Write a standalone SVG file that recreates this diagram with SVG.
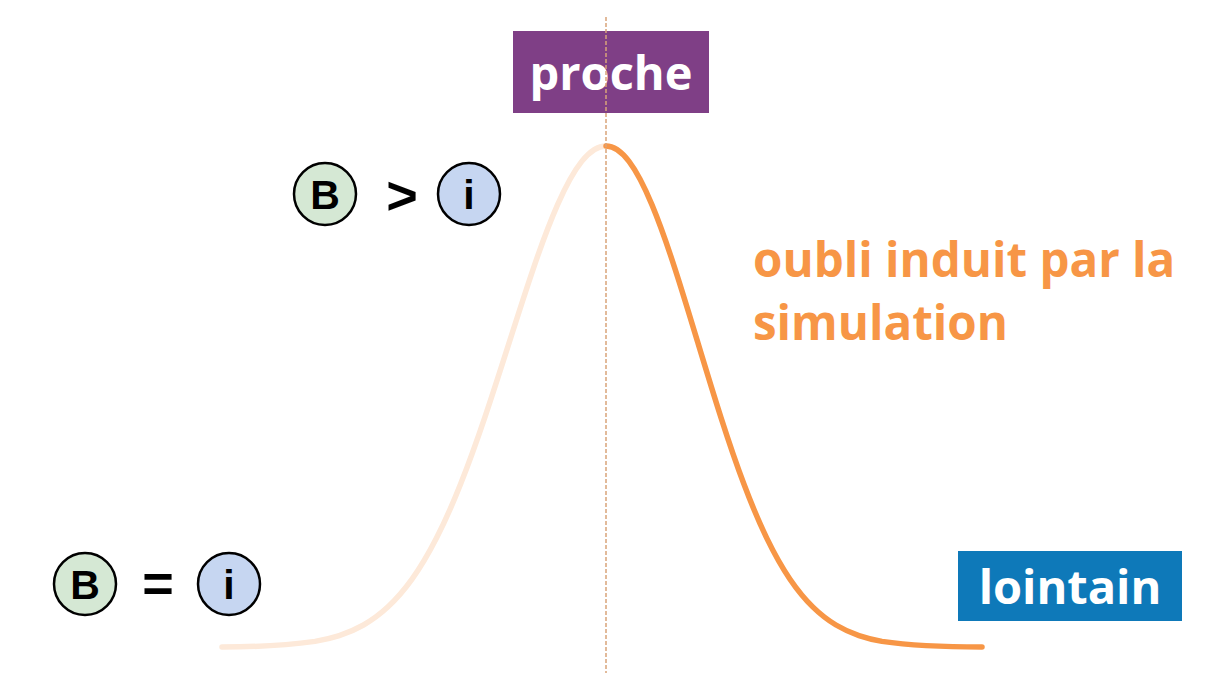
<svg xmlns="http://www.w3.org/2000/svg" width="1209" height="673" viewBox="0 0 1209 673">
<style>
.lbl{font-family:"Open Sans","Liberation Sans",sans-serif;font-weight:700;fill:#fff;font-size:47px;text-anchor:middle}
.note{font-family:"Open Sans","Liberation Sans",sans-serif;font-weight:700;fill:#f79646;font-size:47.5px}
.sym{font-family:"Liberation Sans",Arial,sans-serif;font-weight:700;fill:#000;text-anchor:middle}
.circB{fill:#d5e8d4;stroke:#000;stroke-width:2.5}
.circI{fill:#c6d6f1;stroke:#000;stroke-width:2.5}
</style>
<rect width="1209" height="673" fill="#fff"/>
<g id="connectors">
<path id="curve-left" d="M 606 146 C 597.92 146, 589.83 151.28, 581.75 161.4 C 573.67 171.52, 565.58 186.48, 557.5 204.9 C 549.42 223.32, 541.33 245.16, 533.25 268.8 C 525.17 292.44, 517.08 317.78, 509 343.1 C 500.92 368.42, 492.83 393.7, 484.75 417.6 C 476.67 441.5, 468.58 463.97, 460.5 484.3 C 452.42 504.63, 444.33 522.8, 436.25 538.6 C 428.17 554.4, 420.08 567.9, 412 579.2 C 403.92 590.5, 395.83 599.62, 387.75 607.1 C 379.67 614.58, 371.58 620.42, 363.5 625 C 355.42 629.58, 347.33 632.99, 339.25 635.6 C 331.17 638.21, 323.08 640.01, 315 641.4 C 285 645.5, 250 647, 222 647" fill="none" stroke="#fde9d9" stroke-width="5.5" stroke-linecap="round"/>
<path id="curve-right" d="M 606 146 C 613.67 146, 621.33 151.28, 629 161.4 C 636.67 171.52, 644.33 186.48, 652 204.9 C 659.67 223.32, 667.33 245.16, 675 268.8 C 682.67 292.44, 690.33 317.78, 698 343.1 C 705.67 368.42, 713.33 393.7, 721 417.6 C 728.67 441.5, 736.33 463.97, 744 484.3 C 751.67 504.63, 759.33 522.8, 767 538.6 C 774.67 554.4, 782.33 567.9, 790 579.2 C 797.67 590.5, 805.33 599.62, 813 607.1 C 820.67 614.58, 828.33 620.42, 836 625 C 843.67 629.58, 851.33 632.99, 859 635.6 C 866.67 638.21, 874.33 640.01, 882 641.4 C 910 645.5, 950 647, 982 647" fill="none" stroke="#f79646" stroke-width="5.5" stroke-linecap="round"/>
</g>
<g id="proche">
<rect x="513" y="31" width="196" height="82" fill="#7f3f86"/>
<text class="lbl" x="611" y="90">proche</text>
</g>
<line id="axis" x1="606" y1="17" x2="606" y2="673" stroke="#d9a47a" stroke-width="1.5" stroke-dasharray="4 2"/>
<g id="lointain">
<rect x="958" y="551" width="224" height="70" fill="#0e79b9"/>
<text class="lbl" x="1070" y="604">lointain</text>
</g>
<g id="note">
<text class="note" x="753" y="277">oubli induit par la</text>
<text class="note" x="753" y="340">simulation</text>
</g>
<g id="top-compare">
<circle class="circB" cx="325" cy="194" r="31"/>
<text class="sym" x="325" y="209" font-size="41">B</text>
<text class="sym" x="402" y="214" font-size="54">&gt;</text>
<circle class="circI" cx="469" cy="194" r="31"/>
<text class="sym" x="469" y="209" font-size="41">i</text>
</g>
<g id="bottom-compare">
<circle class="circB" cx="85" cy="584" r="31"/>
<text class="sym" x="85" y="599" font-size="41">B</text>
<text class="sym" x="158" y="602" font-size="54">=</text>
<circle class="circI" cx="229" cy="584" r="31"/>
<text class="sym" x="229" y="599" font-size="41">i</text>
</g>
</svg>
